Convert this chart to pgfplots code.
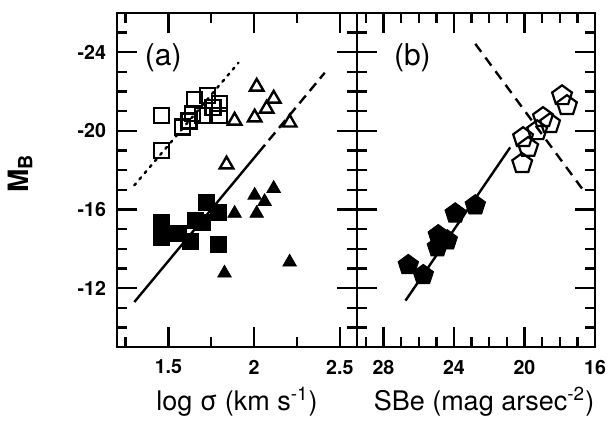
\documentclass[border=0pt]{standalone}
\usepackage{fontspec}
\setmainfont{TeX Gyre Heros}
\usepackage{pgfplots}
\pgfplotsset{compat=1.18}

\pgfplotsset{
  panel/.style={
    scale only axis,
    width=120pt, height=167pt,
    ymin=-26, ymax=-9, y dir=reverse,
    axis line style={line width=1.2pt},
    tick align=inside,
    major tick length=10pt, minor tick length=5pt,
    tick style={black, line width=1.2pt},
    ytick={-24,-20,-16,-12},
    minor ytick={-25,-23,-22,-21,-19,-18,-17,-15,-14,-13,-11,-10},
    tick label style={font=\fontsize{9.8}{11}\selectfont\bfseries},
    xticklabel style={yshift=-3pt},
    yticklabel style={xshift=-2pt},
    xlabel style={font=\fontsize{13.5}{15}\selectfont,
      at={(axis description cs:0.5,0)}, anchor=center, yshift=-27.5pt},
    clip=false,
  },
  opensq/.style={only marks, black, mark=square, mark size=3.75pt, mark options={line width=1.1pt}},
  fullsq/.style={only marks, black, mark=square*, mark size=4pt},
  opentri/.style={only marks, black, mark=triangle, mark size=3.9pt, mark options={line width=1.2pt}},
  fulltri/.style={only marks, black, mark=triangle*, mark size=3.9pt},
  openpent/.style={only marks, black, mark=pentagon, mark size=5.2pt, mark options={line width=1.1pt}},
  fullpent/.style={only marks, black, mark=pentagon*, mark size=5.4pt},
}

\begin{document}
\begin{tikzpicture}
\path[use as bounding box] (0,0) rectangle (305pt,-213pt);

% ---- panel (a)
\begin{axis}[panel,
    at={(58.5pt,-173.5pt)}, anchor=south west,
    xmin=1.2, xmax=2.6,
    xtick={1.5,2,2.5}, xticklabels={1.5,2,2.5},
    minor xtick={1.25,1.75,2.25},
    yticklabels={-24,-20,-16,-12},
    xlabel={log σ (km s\textsuperscript{-1})},
]
% relations
\addplot[black, line width=1.2pt, dash pattern=on 1.2pt off 2.8pt, line cap=round]
  coordinates {(1.301,-17.23) (1.909,-23.47)};
\addplot[black, line width=1.2pt]
  coordinates {(1.301,-11.29) (2.026,-18.90)};
\addplot[black, line width=1.2pt, dash pattern=on 5pt off 3pt]
  coordinates {(2.026,-18.90) (2.412,-22.96)};

% open squares
\addplot[opensq] coordinates {
  (1.46,-20.8) (1.46,-19.0) (1.58,-20.2) (1.62,-20.5) (1.65,-21.6)
  (1.64,-20.9) (1.70,-20.8) (1.73,-21.8) (1.80,-21.4) (1.80,-20.8) (1.76,-21.2)};
% filled squares
\addplot[fullsq] coordinates {
  (1.46,-15.35) (1.46,-14.6) (1.56,-14.8) (1.63,-14.35) (1.66,-15.45)
  (1.72,-16.35) (1.79,-15.85) (1.79,-14.2) (1.70,-15.35)};
% open triangles
\addplot[opentri] coordinates {
  (2.015,-22.25) (2.114,-21.64) (2.073,-21.13) (2.003,-20.68)
  (1.886,-20.52) (2.207,-20.42) (1.839,-18.29)};
% filled triangles
\addplot[fulltri] coordinates {
  (1.886,-15.8) (1.827,-12.76) (2.003,-16.72) (2.015,-15.8)
  (2.061,-16.4) (2.114,-17.07) (2.207,-13.32)};

\node[font=\fontsize{15}{17}\selectfont] at (axis cs:1.47,-23.7) {(a)};
\node[font=\fontsize{14}{16}\selectfont\bfseries, rotate=90]
  at ([xshift=-48.5pt]rel axis cs:0,0.52) {M\textsubscript{B}};
\end{axis}

% ---- panel (b)
\begin{axis}[panel,
    at={(178.5pt,-173.5pt)}, anchor=south west,
    width=119pt,
    x dir=reverse,
    xmin=16, xmax=29.5,
    xtick={28,24,20,16}, xticklabels={28,24,20,16},
    minor xtick={29,27,26,25,23,22,21,19,18,17},
    yticklabels={},
    xlabel={SBe (mag arsec\textsuperscript{-2})},
    xlabel style={xshift=4pt},
]
\addplot[black, line width=1.2pt, dash pattern=on 5pt off 3.5pt]
  coordinates {(22.79,-24.43) (16.74,-17.07)};
\addplot[black, line width=1.2pt]
  coordinates {(26.75,-11.36) (20.81,-19.16)};

% open pentagons
\addplot[openpent] coordinates {
  (17.87,-21.79) (17.59,-21.29) (18.95,-20.68) (18.55,-20.37)
  (19.28,-20.01) (20.08,-19.66) (19.79,-19.16) (20.13,-18.34)};
% filled pentagons
\addplot[fullpent] coordinates {
  (26.59,-13.17) (25.74,-12.66) (24.94,-14.08) (24.89,-14.69)
  (24.38,-14.43) (23.93,-15.8) (22.79,-16.21)};

\node[font=\fontsize{15}{17}\selectfont] at (axis cs:26.36,-23.7) {(b)};
\end{axis}
\end{tikzpicture}
\end{document}
